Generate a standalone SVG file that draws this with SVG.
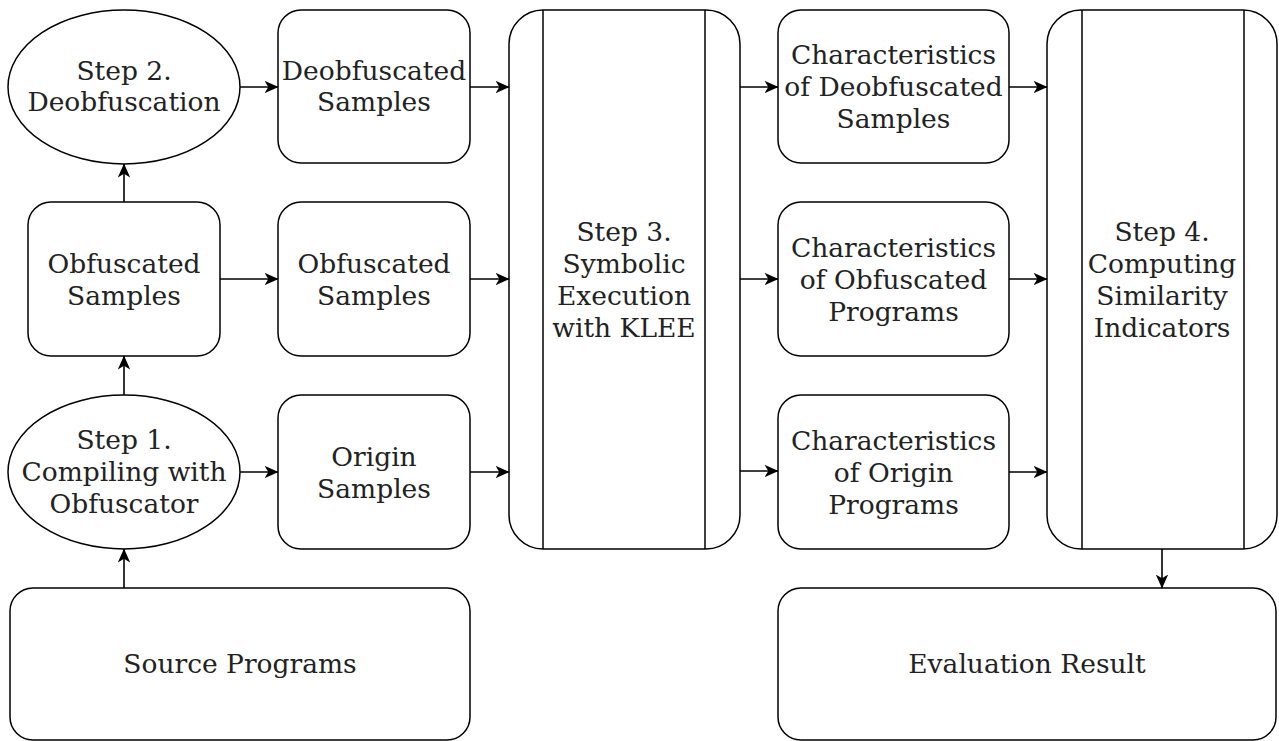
<svg xmlns="http://www.w3.org/2000/svg" width="1279" height="741" viewBox="0 0 1279 741">
<style>
.s{fill:#fff;stroke:#000;stroke-width:1.5}
.l{fill:none;stroke:#000;stroke-width:1.5}
.c{fill:none;stroke:#000;stroke-width:1.6;marker-end:url(#a)}
text{font-family:"DejaVu Serif",serif;font-size:26.5px;fill:#222;text-anchor:middle}
</style>
<defs>
<marker id="a" markerWidth="16" markerHeight="14" refX="13.5" refY="7" orient="auto" markerUnits="userSpaceOnUse">
<path d="M0,0.8 L14,7 L0,13.2 L3.8,7 Z" fill="#000"/>
</marker>
</defs>
<rect width="1279" height="741" fill="#fff"/>
<g id="step2"><ellipse class="s" cx="124" cy="87" rx="116" ry="77"/><text x="124" y="80">Step 2.</text><text x="124" y="111">Deobfuscation</text></g>
<g id="deobf"><rect class="s" x="278" y="10" width="192" height="153" rx="23"/><text x="374" y="80">Deobfuscated</text><text x="374" y="111">Samples</text></g>
<g id="step3"><rect class="s" x="509" y="10" width="231" height="539" rx="34"/><line class="l" x1="543" y1="10" x2="543" y2="549"/><line class="l" x1="705" y1="10" x2="705" y2="549"/><text x="624" y="241">Step 3.</text><text x="624" y="273">Symbolic</text><text x="624" y="305">Execution</text><text x="624" y="337">with KLEE</text></g>
<g id="chardeobf"><rect class="s" x="778" y="10" width="231" height="153" rx="23"/><text x="893.5" y="64">Characteristics</text><text x="893.5" y="96">of Deobfuscated</text><text x="893.5" y="128">Samples</text></g>
<g id="step4"><rect class="s" x="1047" y="10" width="230" height="539" rx="34"/><line class="l" x1="1082" y1="10" x2="1082" y2="549"/><line class="l" x1="1244" y1="10" x2="1244" y2="549"/><text x="1162" y="241">Step 4.</text><text x="1162" y="273">Computing</text><text x="1162" y="305">Similarity</text><text x="1162" y="337">Indicators</text></g>
<g id="obfleft"><rect class="s" x="28" y="202" width="192" height="154" rx="23"/><text x="124" y="273">Obfuscated</text><text x="124" y="305">Samples</text></g>
<g id="obfmid"><rect class="s" x="278" y="202" width="192" height="154" rx="23"/><text x="374" y="273">Obfuscated</text><text x="374" y="305">Samples</text></g>
<g id="charobf"><rect class="s" x="778" y="202" width="231" height="154" rx="23"/><text x="893.5" y="257">Characteristics</text><text x="893.5" y="289">of Obfuscated</text><text x="893.5" y="321">Programs</text></g>
<g id="step1"><ellipse class="s" cx="124" cy="472" rx="116" ry="77"/><text x="124" y="449">Step 1.</text><text x="124" y="481">Compiling with</text><text x="124" y="513">Obfuscator</text></g>
<g id="origin"><rect class="s" x="278" y="395" width="192" height="154" rx="23"/><text x="374" y="466">Origin</text><text x="374" y="498">Samples</text></g>
<g id="charorigin"><rect class="s" x="778" y="395" width="231" height="154" rx="23"/><text x="893.5" y="450">Characteristics</text><text x="893.5" y="482">of Origin</text><text x="893.5" y="514">Programs</text></g>
<g id="source"><rect class="s" x="10" y="588" width="460" height="152" rx="23"/><text x="240" y="673">Source Programs</text></g>
<g id="eval"><rect class="s" x="778" y="588" width="498" height="152" rx="23"/><text x="1027" y="673">Evaluation Result</text></g>
<g id="connectors">
<path class="c" d="M240,87 H278"/>
<path class="c" d="M470,87 H509"/>
<path class="c" d="M740,87 H778"/>
<path class="c" d="M1009,87 H1047"/>
<path class="c" d="M220,279 H278"/>
<path class="c" d="M470,279 H509"/>
<path class="c" d="M740,279 H778"/>
<path class="c" d="M1009,279 H1047"/>
<path class="c" d="M240,472 H278"/>
<path class="c" d="M470,472 H509"/>
<path class="c" d="M740,471 H778"/>
<path class="c" d="M1009,472 H1047"/>
<path class="c" d="M124,395 V356"/>
<path class="c" d="M124,202 V164"/>
<path class="c" d="M124,588 V549"/>
<path class="c" d="M1162,549 V588"/>
</g>
</svg>
